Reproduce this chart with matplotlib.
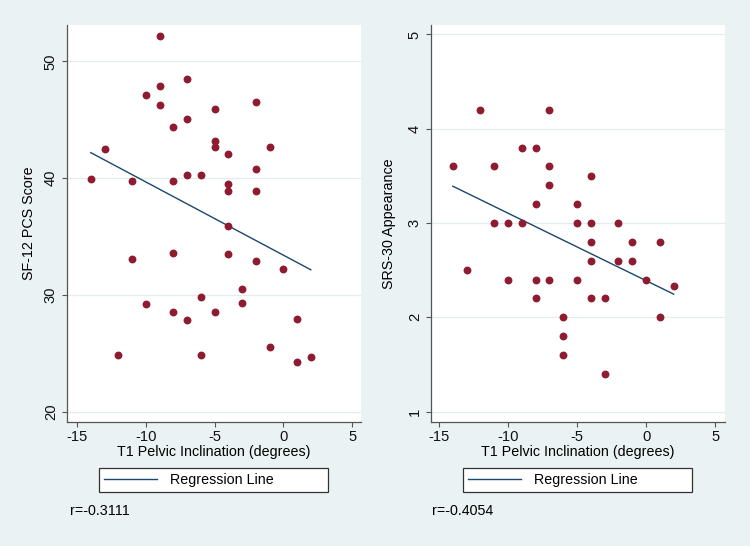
import matplotlib
matplotlib.use('Agg')
import matplotlib.pyplot as plt
import numpy as np

# T1 pelvic inclination vs SF-12 PCS score
pcs_x = [-9, -7, -9, -10, -9, -2, -5, -7, -8, -5, -5, -13, -1, -4, -2, -7, -6, -14, -11, -8, -4,
         -4, -2, -4, -11, -8, -4, -2, 0, -3, -6, -10, -3, -8, -5, -7, 1, -1, -12, -6, 1, 2]
pcs_y = [52.2, 48.5, 47.9, 47.1, 46.3, 46.5, 45.9, 45.1, 44.4, 43.2, 42.7, 42.5, 42.7, 42.1, 40.8,
         40.3, 40.3, 39.9, 39.8, 39.8, 39.5, 38.9, 38.9, 35.9, 33.1, 33.6, 33.5, 32.9, 32.2, 30.5,
         29.8, 29.2, 29.3, 28.6, 28.6, 27.9, 28.0, 25.6, 24.9, 24.9, 24.3, 24.7]

# T1 pelvic inclination vs SRS-30 appearance
app_x = [-12, -7, -9, -8, -14, -11, -7, -4, -7, -8, -5, -11, -10, -9, -5, -4, -2, -4, -1, 1,
         -4, -2, -1, -13, -10, -8, -7, -5, 0, 2, -8, -4, -3, -6, 1, -6, -6, -3]
app_y = [4.2, 4.2, 3.8, 3.8, 3.6, 3.6, 3.6, 3.5, 3.4, 3.2, 3.2, 3.0, 3.0, 3.0, 3.0, 3.0, 3.0,
         2.8, 2.8, 2.8, 2.6, 2.6, 2.6, 2.5, 2.4, 2.4, 2.4, 2.4, 2.4, 2.33, 2.2, 2.2, 2.2, 2.0,
         2.0, 1.8, 1.6, 1.4]

x_ticks = [-15, -10, -5, 0, 5]
pcs_ticks = [20, 30, 40, 50]
app_ticks = [1, 2, 3, 4, 5]
x_label = 'T1 Pelvic Inclination (degrees)'
r_texts = ['r=-0.3111', 'r=-0.4054']

BG = '#EAF2F3'
DOT = '#8E1B30'
LINE = '#1A476F'
AX = '#555555'

plt.rcParams['font.family'] = ['Liberation Sans', 'DejaVu Sans']
plt.rcParams['font.size'] = 10.3
plt.rcParams['axes.unicode_minus'] = False


def panel(ax, xs, ys, yticks, ylim, xlim, ylabel, ylabx, r_text, r_x):
    ax.set_facecolor('white')
    ax.scatter(xs, ys, s=32, color=DOT, linewidths=0, zorder=3)
    slope, icpt = np.polyfit(xs, ys, 1)
    lx = np.array([min(xs), max(xs)])
    ax.plot(lx, icpt + slope * lx, color=LINE, lw=1.0, zorder=2, label='Regression Line')
    ax.set_xlim(*xlim)
    ax.set_ylim(*ylim)
    ax.set_xticks(x_ticks)
    ax.set_yticks(yticks)
    ax.yaxis.grid(True, color='#E3ECEE', lw=0.9)
    ax.set_axisbelow(True)
    for s in ['top', 'right']:
        ax.spines[s].set_visible(False)
    for s in ['left', 'bottom']:
        ax.spines[s].set_color(AX)
        ax.spines[s].set_linewidth(0.9)
    ax.tick_params(direction='out', length=3.6, width=0.8, color=AX, labelcolor='#111111',
                   labelsize=10.6)
    ax.tick_params(axis='x', pad=2)
    ax.tick_params(axis='y', pad=3)
    for t in ax.get_yticklabels():
        t.set_rotation(90)
        t.set_va('center')
    ax.set_xlabel(x_label)
    ax.xaxis.set_label_coords(0.5, -0.058)
    ax.set_ylabel(ylabel)
    ax.yaxis.set_label_coords(ylabx, 0.5)
    leg = ax.legend(loc='upper left', bbox_to_anchor=(0.109, -0.116, 0.779, 0), mode='expand',
                    borderaxespad=0, fancybox=False, framealpha=1, edgecolor='#333333',
                    handlelength=3.7, handletextpad=0.9, borderpad=0.35)
    leg.get_frame().set_linewidth(0.9)
    ax.text(r_x, -0.223, r_text, transform=ax.transAxes, ha='left', va='center')


fig = plt.figure(figsize=(7.5, 5.46), dpi=100, facecolor=BG)
ax1 = fig.add_axes([0.0893, 0.2271, 0.392, 0.727])
ax2 = fig.add_axes([0.5747, 0.2271, 0.392, 0.727])

panel(ax1, pcs_x, pcs_y, pcs_ticks, (19.15, 53.1), (-15.73, 5.65), 'SF-12 PCS Score', -0.105,
      r_texts[0], 0.01)
panel(ax2, app_x, app_y, app_ticks, (0.89, 5.1), (-15.58, 5.72), 'SRS-30 Appearance', -0.12,
      r_texts[1], 0.005)

fig.savefig('out.png', dpi=100, facecolor=BG)
